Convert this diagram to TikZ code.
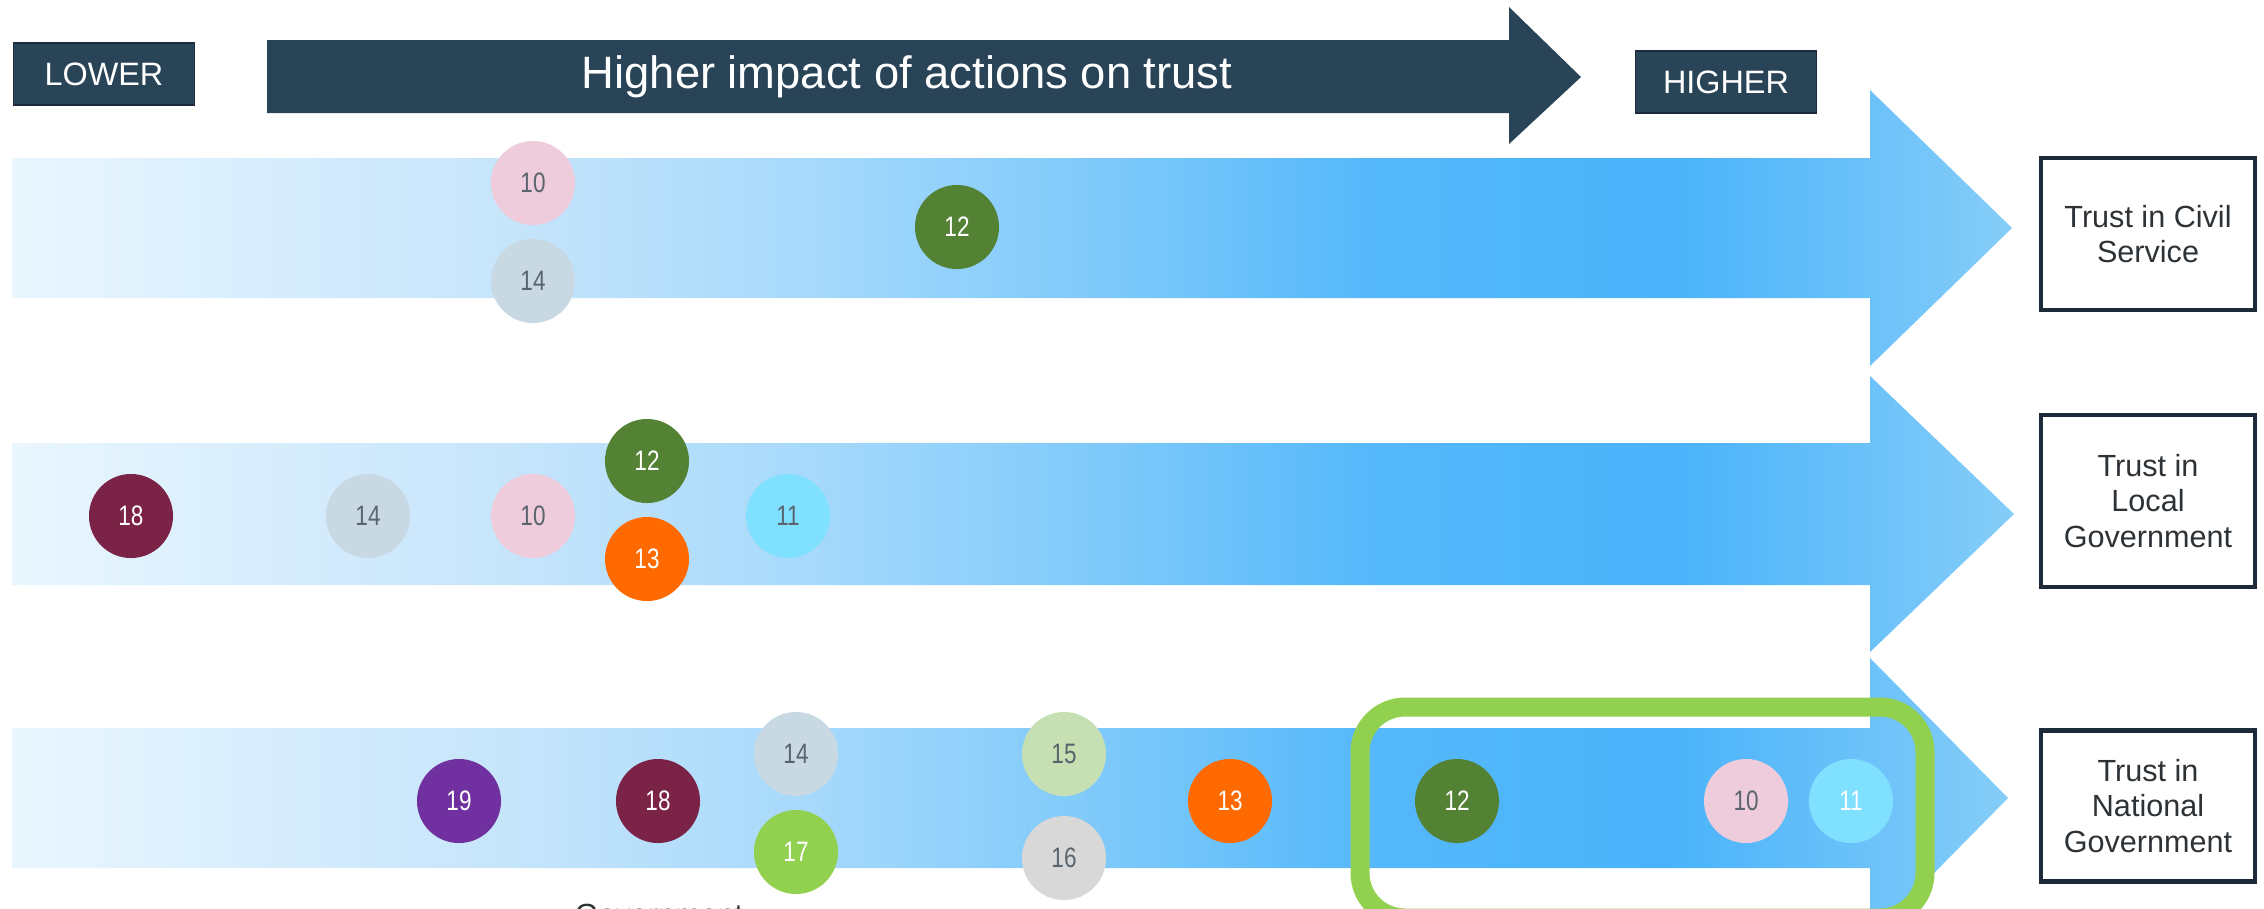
\documentclass[tikz,border=0pt]{standalone}
\usepackage{fontspec}
\setmainfont{Liberation Sans}
\newfontfamily\numfont{Liberation Sans}[FakeStretch=0.8]
\usetikzlibrary{calc}

\definecolor{navy}{HTML}{2A4457}
\definecolor{boxline}{HTML}{1C2A3A}
\definecolor{numgray}{HTML}{5A646C}
\definecolor{pinkb}{HTML}{EFCCDC}
\definecolor{slateb}{HTML}{C8D9E4}
\definecolor{darkgreenb}{HTML}{548235}
\definecolor{maroonb}{HTML}{7B2346}
\definecolor{orangeb}{HTML}{FF6A00}
\definecolor{cyanb}{HTML}{80E0FF}
\definecolor{purpleb}{HTML}{7030A0}
\definecolor{limeb}{HTML}{92D050}
\definecolor{paleb}{HTML}{C6E0B4}
\definecolor{greyb}{HTML}{D8D8D8}
\definecolor{hlgreen}{HTML}{92D050}
\definecolor{bandA}{HTML}{EAF6FE}
\definecolor{bandB}{HTML}{C4E4FB}
\definecolor{bandC}{HTML}{A6D9FB}
\definecolor{bandD}{HTML}{7DC9FA}
\definecolor{bandE}{HTML}{55B8FA}
\definecolor{bandF}{HTML}{4AB3FA}
\definecolor{bandG}{HTML}{6CC2F9}
\definecolor{bandH}{HTML}{85CDF8}

\pgfdeclarehorizontalshading{trustband}{100bp}{%
  color(0bp)=(bandA); color(25bp)=(bandA);
  color(38bp)=(bandB); color(45bp)=(bandC);
  color(52.5bp)=(bandD); color(59bp)=(bandE);
  color(66.5bp)=(bandF); color(71.5bp)=(bandG);
  color(75bp)=(bandH); color(100bp)=(bandH)}

\tikzset{
  tag/.style={fill=navy, draw=boxline, text=white, inner sep=0pt,
    minimum width=1.81cm, minimum height=0.62cm,
    font=\fontsize{9.2}{11}\selectfont},
  trustbox/.style={draw=boxline, line width=1.2pt, fill=white, align=center,
    minimum width=2.14cm, text=numgray!50!black,
    font=\fontsize{8.7}{10}\selectfont},
  badge/.style={circle, inner sep=0pt, minimum size=0.84cm,
    font=\numfont\fontsize{8}{8}\selectfont},
  onlight/.style={badge, text=numgray},
  ondark/.style={badge, text=white}
}

\begin{document}
\begin{tikzpicture}[x=0.01cm, y=-0.01cm]
    \useasboundingbox (0,0) rectangle (2264,908);
    \clip (0,0) rectangle (2264,908);

    \fill [navy] (267,40) -- (1509,40) -- (1509,7) -- (1581,77)
      -- (1509,144) -- (1509,113) -- (267,113) -- cycle;
    \node [text=white, font=\fontsize{12.9}{15}\selectfont] (title) at (907,77)
      {Higher impact of actions on trust};
    \node [tag] (lower) at (104,74) {LOWER};
    \node [tag] (higher) at (1726,82) {HIGHER};

    \shade [shading=trustband] (12,158) -- (1870,158) -- (1870,90) -- (2012,228)
      -- (1870,366) -- (1870,298) -- (12,298) -- cycle;
    \shade [shading=trustband] (12,443) -- (1870,443) -- (1870,376) -- (2014,514)
      -- (1870,652) -- (1870,585) -- (12,585) -- cycle;
    \shade [shading=trustband] (12,728) -- (1870,728) -- (1870,658) -- (2008,798)
      -- (1870,938) -- (1870,868) -- (12,868) -- cycle;

    \node [trustbox, minimum height=1.52cm] (civil) at (2148,234)
      {Trust in Civil\\Service};
    \node [trustbox, minimum height=1.72cm] (local) at (2148,501)
      {Trust in\\Local\\Government};
    \node [trustbox, minimum height=1.51cm] (national) at (2148,806)
      {Trust in\\National\\Government};

    \node [onlight, fill=pinkb] (cs10) at (533,183) {10};
    \node [onlight, fill=slateb] (cs14) at (533,281) {14};
    \node [ondark, fill=darkgreenb] (cs12) at (957,227) {12};

    \node [ondark, fill=maroonb] (lg18) at (131,516) {18};
    \node [onlight, fill=slateb] (lg14) at (368,516) {14};
    \node [onlight, fill=pinkb] (lg10) at (533,516) {10};
    \node [ondark, fill=darkgreenb] (lg12) at (647,461) {12};
    \node [ondark, fill=orangeb] (lg13) at (647,559) {13};
    \node [onlight, fill=cyanb] (lg11) at (788,516) {11};

    \node [ondark, fill=purpleb] (ng19) at (459,801) {19};
    \node [ondark, fill=maroonb] (ng18) at (658,801) {18};
    \node [onlight, fill=slateb] (ng14) at (796,754) {14};
    \node [ondark, fill=limeb] (ng17) at (796,852) {17};
    \node [onlight, fill=paleb] (ng15) at (1064,754) {15};
    \node [onlight, fill=greyb] (ng16) at (1064,858) {16};
    \node [ondark, fill=orangeb] (ng13) at (1230,801) {13};
    \node [ondark, fill=darkgreenb] (ng12) at (1457,801) {12};
    \node [onlight, fill=pinkb] (ng10) at (1746,801) {10};
    \node [ondark, fill=cyanb] (ng11) at (1851,801) {11};

    \draw [hlgreen, line width=0.19cm, rounded corners=0.45cm] (1360,707) rectangle (1925,918);

    \node [anchor=north, inner sep=0pt, text=numgray!50!black,
      font=\fontsize{8.7}{10}\selectfont] (govcut) at (659,903) {Government};
  \end{tikzpicture}
\end{document}
